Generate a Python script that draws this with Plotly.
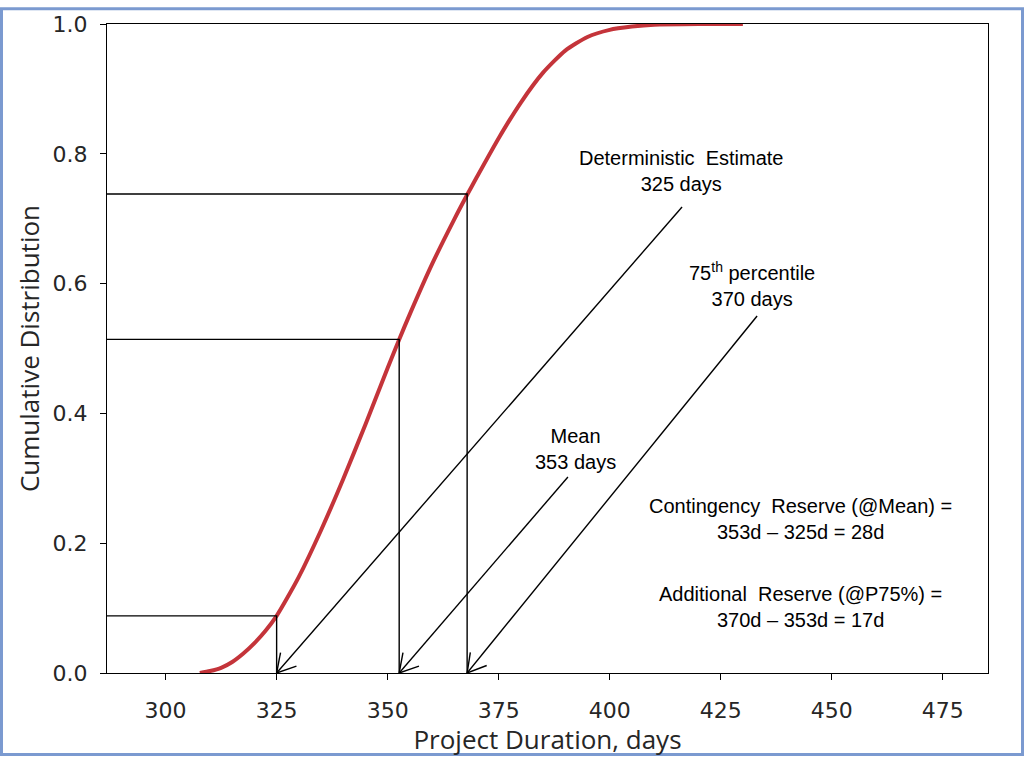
import math
import plotly.graph_objects as go

# ---- data ----
days = [307.7, 310.0, 312.5, 315.0, 317.5, 320.0, 322.5, 325.0, 327.5, 330.0,
        335.0, 340.0, 345.0, 350.0, 352.6, 355.0, 360.0, 365.0, 368.0, 370.0,
        375.0, 380.0, 385.0, 390.0, 395.0, 400.0, 405.0, 410.0, 420.0, 430.0]
cdf = [0.000, 0.003, 0.008, 0.017, 0.030, 0.046, 0.065, 0.088, 0.117, 0.148,
       0.220, 0.299, 0.383, 0.470, 0.514, 0.553, 0.630, 0.699, 0.738, 0.763,
       0.824, 0.879, 0.925, 0.959, 0.980, 0.991, 0.996, 0.999, 1.000, 1.000]

marker_days = [325.0, 352.6, 367.9]          # deterministic, mean, P75 (as drawn)
marker_cdf = [0.088, 0.514, 0.738]

labels = ["Deterministic\u00a0 Estimate<br>325 days",
          "Mean<br>353 days",
          "75<sup>th</sup> percentile<br>370 days"]
label_pos = [(416.1, 0.774), (392.2, 0.345), (432.0, 0.599)]
arrow_start = [(416.3, 0.718), (390.6, 0.302), (433.2, 0.550)]

notes = ["Contingency\u00a0 Reserve (@Mean) =<br>353d \u2013 325d = 28d",
         "Additional\u00a0 Reserve (@P75%) =<br>370d \u2013 353d = 17d"]
note_pos = [(443.0, 0.238), (443.0, 0.101)]

x_ticks = [300, 325, 350, 375, 400, 425, 450, 475]
y_ticks = [0.0, 0.2, 0.4, 0.6, 0.8, 1.0]
x_range = [286.8, 485.2]
y_range = [0.0, 1.0]

# ---- layout geometry ----
W, H = 1024, 757
ML, MR, MT, MB = 107, 36, 17, 84
PW, PH = W - ML - MR, H - MT - MB
px_x = PW / (x_range[1] - x_range[0])
px_y = PH / (y_range[1] - y_range[0])

fig = go.Figure()

fig.add_trace(go.Scatter(x=days, y=cdf, mode="lines",
                         line=dict(color="#c4343a", width=4, shape="spline", smoothing=0.6),
                         hoverinfo="skip", showlegend=False))

for d, p in zip(marker_days, marker_cdf):
    fig.add_trace(go.Scatter(x=[x_range[0], d, d], y=[p, p, 0], mode="lines",
                             line=dict(color="black", width=1.4),
                             hoverinfo="skip", showlegend=False))

shapes = []
barb_len, barb_ang = 21, math.radians(30)
for (xs, ys), d in zip(arrow_start, marker_days):
    shapes.append(dict(type="line", xref="x", yref="y", x0=xs, y0=ys, x1=d, y1=0,
                       line=dict(color="black", width=1.4)))
    th = math.atan2(ys * px_y, (xs - d) * px_x)
    for s in (1, -1):
        a = th + s * barb_ang
        shapes.append(dict(type="line", xref="x", yref="y", x0=d, y0=0,
                           x1=d + barb_len * math.cos(a) / px_x,
                           y1=barb_len * math.sin(a) / px_y,
                           line=dict(color="black", width=1.4)))

# outer blue frame
bw = 3
shapes.append(dict(type="rect", xref="paper", yref="paper", layer="above",
                   x0=(-ML + bw / 2) / PW, x1=(W - ML - bw / 2) / PW,
                   y0=(-MB + bw / 2) / PH, y1=(H - MB - bw / 2) / PH,
                   line=dict(color="#7b9ad0", width=bw)))

annotations = []
for t, (x, y) in zip(labels + notes, label_pos + note_pos):
    annotations.append(dict(text=t, x=x, y=y, xref="x", yref="y", showarrow=False,
                            xanchor="center", yanchor="middle", align="center",
                            font=dict(family="Liberation Sans, Arial", size=20, color="black")))

tickfont = dict(family="DejaVu Sans", size=22, color="#262626")
titlefont = dict(family="Open Sans", size=26, color="#262626")

fig.update_layout(
    width=W, height=H, autosize=False,
    margin=dict(l=ML, r=MR, t=MT, b=MB, pad=0),
    paper_bgcolor="white", plot_bgcolor="white",
    shapes=shapes, annotations=annotations,
    xaxis=dict(range=x_range, tickvals=x_ticks, ticktext=[str(v) for v in x_ticks],
               showgrid=False, zeroline=False, showline=True, mirror=True,
               linecolor="black", linewidth=1.4, ticks="outside", ticklen=6,
               tickwidth=1.4, tickcolor="black", tickfont=tickfont,
               ticklabelstandoff=11, layer="above traces",
               title=dict(text="Project Duration, days", font=titlefont, standoff=3)),
    yaxis=dict(range=y_range, tickvals=y_ticks, ticktext=[f"{v:.1f}" for v in y_ticks],
               showgrid=False, zeroline=False, showline=True, mirror=True,
               linecolor="black", linewidth=1.4, ticks="outside", ticklen=6,
               tickwidth=1.4, tickcolor="black", tickfont=tickfont,
               ticklabelstandoff=8, layer="above traces",
               title=dict(text="Cumulative Distribution", font=titlefont, standoff=5)),
)

fig.write_html("out.html")
